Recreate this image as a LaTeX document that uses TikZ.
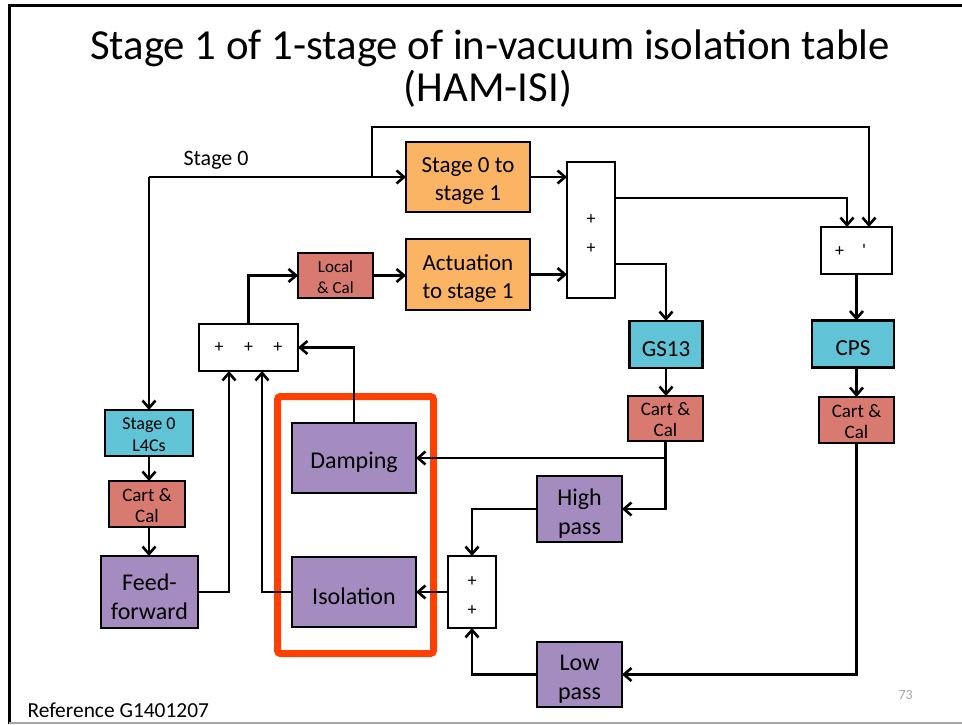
\documentclass[tikz,border=0pt]{standalone}
\usepackage{fontspec}
\setmainfont{Carlito}
\usetikzlibrary{arrows.meta,calc}

\definecolor{boxorange}{HTML}{FBB463}
\definecolor{boxsalmon}{HTML}{D97A70}
\definecolor{boxcyan}{HTML}{60C3D6}
\definecolor{boxpurple}{HTML}{A48BC0}
\definecolor{framered}{HTML}{FF4000}

\tikzset{
  blk/.style={draw=black, line width=2.6pt, inner sep=0pt, outer sep=0pt},
  orangebox/.style={blk, fill=boxorange},
  salmonbox/.style={blk, fill=boxsalmon},
  cyanbox/.style={blk, fill=boxcyan},
  purplebox/.style={blk, fill=boxpurple},
  sumbox/.style={blk, fill=white},
  % block captions sit slightly below the middle of their block
  boxtext/.style={align=center, inner sep=0pt, yshift=-4.5pt},
  smalltext/.style={align=center, inner sep=0pt, yshift=-1.5pt},
  txtL/.style={label={[boxtext, font=\fontsize{24}{29}\selectfont]center:#1}},
  txtM/.style={label={[boxtext, font=\fontsize{23}{28}\selectfont]center:#1}},
  txtS/.style={label={[smalltext, font=\fontsize{19}{21}\selectfont]center:#1}},
  txtXS/.style={label={[smalltext, font=\fontsize{17}{21}\selectfont]center:#1}},
  txtSum/.style={label={[boxtext, yshift=0.5pt, font=\fontsize{18}{29}\selectfont]center:#1}},
  txtRow/.style={label={[align=center, inner sep=0pt, font=\fontsize{18}{22}\selectfont]center:#1}},
  wire/.style={line width=2.6pt, draw=black},
  arr/.style={wire, -{Straight Barb[length=7.5pt,width=13pt,line width=2.6pt]}},
}

\begin{document}
\begin{tikzpicture}[x=1pt,y=-1pt]
  \useasboundingbox (0,0) rectangle (962,725);
  \fill[white] (0,0) rectangle (962,725);

  % slide frame
  \draw[line width=3pt] (962,6) -- (9,6) -- (9,724);
  \draw[line width=1.5pt, gray!70] (9,723) -- (962,723);

  % title
  \node[anchor=base, font=\fontsize{42.8}{48}\selectfont] (title1) at (490,60)
    {Stage 1 of 1-stage of in-vacuum isolation table};
  \node[anchor=base, font=\fontsize{42.8}{48}\selectfont] (title2) at (488,102)
    {(HAM-ISI)};

  % highlighted controller pair
  \draw[line width=7pt, framered, rounded corners=3pt]
    (277.5,396.5) rectangle (433.5,653.5);

  % blocks
  \node[orangebox, minimum width=124, minimum height=70, txtM={Stage 0 to\\stage 1}] (s01) at (468,177) {};
  \node[orangebox, minimum width=124, minimum height=71, txtM={Actuation\\to stage 1}] (act) at (468,274.5) {};
  \node[salmonbox, minimum width=75, minimum height=45, txtXS={Local\\\& Cal}] (loc) at (335.5,275.5) {};
  \node[sumbox, minimum width=48, minimum height=136, txtSum={+\\+}] (bigsum) at (591,230) {};
  \node[sumbox, minimum width=71, minimum height=47, txtRow={+\hspace{18pt}\textquotesingle\hspace{12pt}}] (pm) at (856.5,250.5) {};
  \node[cyanbox, minimum width=73, minimum height=47, txtM={GS13}] (gs13) at (666,344.5) {};
  \node[cyanbox, minimum width=82, minimum height=47, txtM={CPS}] (cps) at (853,344) {};
  \node[salmonbox, minimum width=75, minimum height=45, txtS={Cart \&\\Cal}] (cc2) at (665.5,418.5) {};
  \node[salmonbox, minimum width=75, minimum height=46, txtS={Cart \&\\Cal}] (cc3) at (856.5,420) {};
  \node[purplebox, minimum width=85, minimum height=66, txtL={High\\pass}] (hp) at (579.5,509) {};
  \node[sumbox, minimum width=48, minimum height=72, txtSum={+\\+}] (ssum) at (472,592) {};
  \node[purplebox, minimum width=85, minimum height=65, txtL={Low\\pass}] (lp) at (579.5,674.5) {};
  \node[sumbox, minimum width=99, minimum height=47, txtRow={+\hspace{20.5pt}+\hspace{20.5pt}+}] (ppp) at (248.5,347.5) {};
  \node[purplebox, minimum width=124, minimum height=70, txtL={Damping}] (damp) at (354,458) {};
  \node[purplebox, minimum width=124, minimum height=70, txtL={Isolation}] (iso) at (354,592) {};
  \node[cyanbox, minimum width=88, minimum height=46, label={[smalltext, font=\fontsize{18}{22}\selectfont]center:Stage 0\\L4Cs}] (l4c) at (149,433) {};
  \node[salmonbox, minimum width=76, minimum height=46, txtS={Cart \&\\Cal}] (cc1) at (147,504) {};
  \node[purplebox, minimum width=97, minimum height=72, txtL={Feed-\\forward}] (ff) at (149.5,592) {};

  % free labels
  \node[anchor=base west, font=\fontsize{22}{26}\selectfont] (s0lbl) at (180,165) {Stage 0};
  \node[anchor=base west, font=\fontsize{21.4}{25}\selectfont] (ref) at (24,717) {Reference G1401207};
  \node[anchor=base west, font=\fontsize{14}{17}\selectfont, text=gray!70] (pg) at (895,699) {73};

  % bend points
  \coordinate (c0) at (149,177);
  \coordinate (t1) at (372,177);
  \coordinate (t2) at (869,127);
  \coordinate (y198) at (0,198);
  \coordinate (y264) at (0,264);
  \coordinate (x847) at (847,0);
  \coordinate (x229) at (229,0);
  \coordinate (x262) at (262,0);

  % stage 0 path
  \draw[wire] (c0) -- (t1);
  \draw[arr] (t1) -- (s01.west);
  \draw[arr] (c0) -- (l4c.north);
  \draw[arr] (t1) |- (t2) -- (t2 |- pm.north);

  % into and out of the first summer
  \draw[arr] (s01.east) -- (s01.east -| bigsum.west);
  \draw[arr] (act.east) -- (act.east -| bigsum.west);
  \draw[arr] (bigsum.east |- y198) -| (x847 |- pm.north);
  \draw[arr] (bigsum.east |- y264) -| (gs13.north);

  % sensor chains
  \draw[arr] (pm.south) -- (pm.south |- cps.north);
  \draw[arr] (gs13.south) -- (gs13.south |- cc2.north);
  \draw[arr] (cps.south -| pm.south) -- (pm.south |- cc3.north);
  \draw[arr] (cc2.south) |- (hp.east);
  \draw[arr] (cc2.south |- damp.east) -- (damp.east);
  \draw[arr] (cc3.south) |- (lp.east);

  % blend filters
  \draw[arr] (hp.west) -| (ssum.north);
  \draw[arr] (lp.west) -| (ssum.south);
  \draw[arr] (ssum.west) -- (iso.east);

  % controllers into the three-input summer
  \draw[arr] (damp.north) |- (ppp.east);
  \draw[arr] (iso.west) -| (x262 |- ppp.south);
  \draw[arr] (ff.east) -| (x229 |- ppp.south);
  \draw[arr] (ppp.north) |- (loc.west);
  \draw[arr] (loc.east) -- (loc.east -| act.west);

  % left feed-forward chain
  \draw[arr] (l4c.south) -- (l4c.south |- cc1.north);
  \draw[arr] (cc1.south -| l4c.south) -- (l4c.south |- ff.north);
\end{tikzpicture}
\end{document}
